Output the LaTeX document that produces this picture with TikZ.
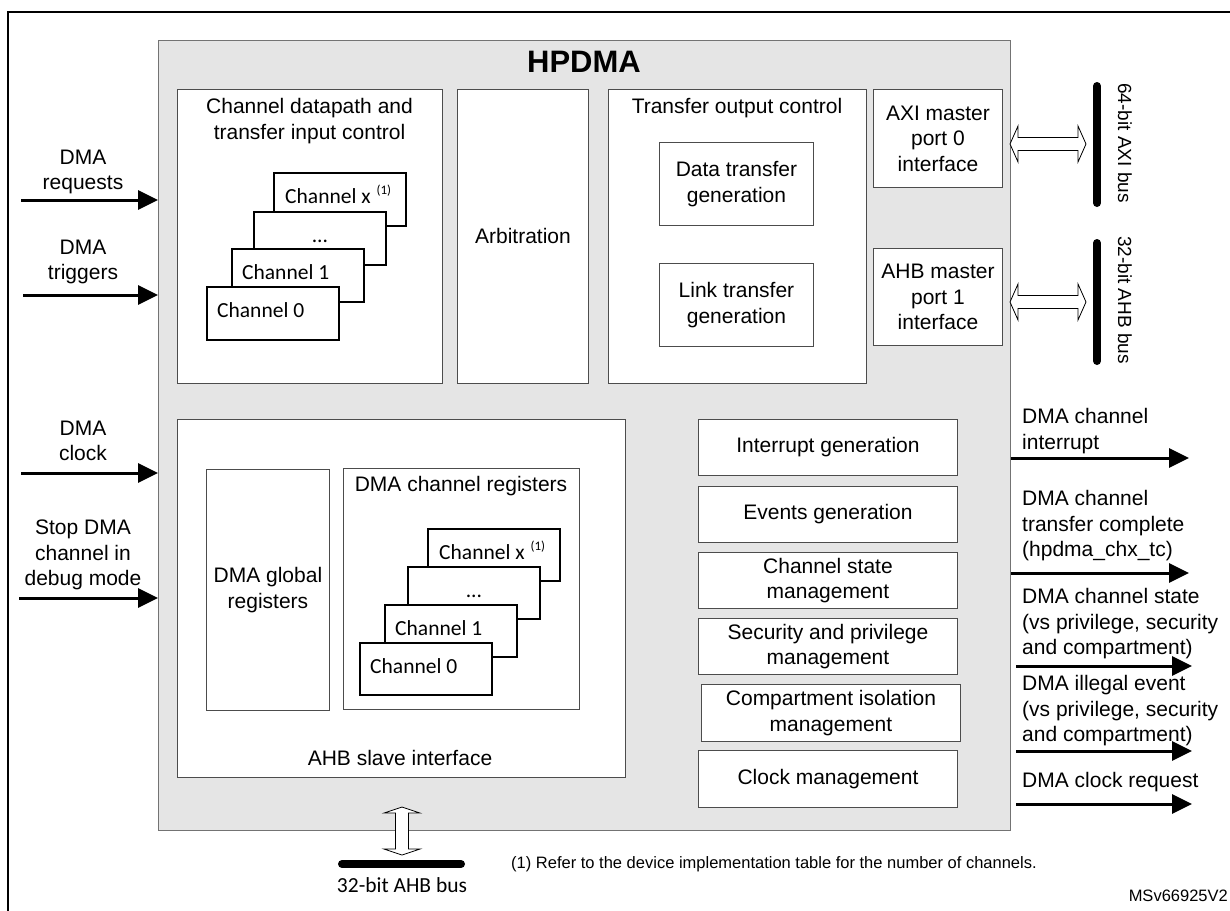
\documentclass[tikz,border=0pt]{standalone}
\usepackage{fontspec}
\setmainfont{Liberation Sans}
\newfontfamily\calfont{Carlito}
\usetikzlibrary{arrows.meta,calc}
\begin{document}
\begin{tikzpicture}[x=1pt,y=-1pt,
  box/.style={draw=black!70,line width=0.9pt,fill=white,inner sep=0pt,anchor=north west},
  chan/.style={draw=black,line width=1.8pt,fill=white,inner sep=0pt,anchor=north west,minimum width=132pt},
  txt/.style={font=\fontsize{21}{25.5}\selectfont,align=center,inner sep=0pt},
  ltxt/.style={font=\fontsize{21}{25.5}\selectfont,align=left,inner sep=0pt,anchor=west},
  ctxt/.style={font=\calfont\fontsize{21.5}{25}\selectfont,inner sep=0pt},
  sig/.style={line width=3pt,-{Triangle[length=20pt,width=19pt]}},
  bus/.style={line width=8pt,line cap=round},
  hollow/.style={draw=black,line width=0.8pt,fill=white},
  small/.style={font=\fontsize{16.5}{16.5}\selectfont,inner sep=0pt}
]
\useasboundingbox (0,0) rectangle (1230,910);
\fill[white] (0,0) rectangle (1230,910);
\draw[line width=1.5pt] (8,930) -- (8,12) -- (1250,12);

% main block
\node[draw=black!55,line width=1.2pt,fill=black!10,anchor=north west,inner sep=0pt,minimum width=852pt,minimum height=790pt] (hpdma) at (158,40) {};
\node[font=\bfseries\fontsize{31}{31}\selectfont,inner sep=0pt] (hptitle) at (584,62) {HPDMA};

% top row
\node[box,minimum width=265pt,minimum height=294pt] (dpath) at (177,89) {};
\node[txt] (dpatht) at (309.5,121) {Channel datapath and\\transfer input control};
\node[box,txt,minimum width=131pt,minimum height=294pt] (arb) at (457,89) {Arbitration};
\node[box,minimum width=258pt,minimum height=294pt] (tout) at (608,89) {};
\node[txt] (toutt) at (737,108) {Transfer output control};
\node[box,txt,minimum width=154pt,minimum height=83pt] (dgen) at (659,142) {Data transfer\\generation};
\node[box,txt,minimum width=154pt,minimum height=83pt] (lgen) at (659,263) {Link transfer\\generation};
\node[box,txt,minimum width=129pt,minimum height=98pt] (axim) at (873,89) {AXI master\\port 0\\interface};
\node[box,txt,minimum width=129pt,minimum height=97pt] (ahbm) at (873,248) {AHB master\\port 1\\interface};

% top channel stack
\node[chan,minimum height=53pt] (tcx) at (273,172) {};
\node[ctxt,anchor=base west] (tcxt) at ($(tcx.north west)+(12,31)$) {Channel x\hspace{6pt}\raisebox{9pt}{\fontsize{13}{13}\selectfont(1)}};
\node[chan,minimum height=53pt] (tdt) at (253,211) {};
\node[ctxt,anchor=base] (tdtt) at ($(tdt.north)+(0,31)$) {...};
\node[chan,minimum height=53pt] (tc1) at (231,248) {};
\node[ctxt,anchor=base west] (tc1t) at ($(tc1.north west)+(11,31)$) {Channel 1};
\node[chan,minimum height=53pt] (tc0) at (206,286) {};
\node[ctxt,anchor=base west] (tc0t) at ($(tc0.north west)+(11,31)$) {Channel 0};

% bottom left
\node[box,minimum width=448pt,minimum height=358pt] (slave) at (177,419) {};
\node[txt] (slavet) at (400,758) {AHB slave interface};
\node[box,txt,minimum width=123pt,minimum height=241pt] (glob) at (206,469) {DMA global\\registers};
\node[box,minimum width=236pt,minimum height=241pt] (cregs) at (343,468) {};
\node[txt] (cregst) at (461,486) {DMA channel registers};

\node[chan,minimum height=52pt] (bcx) at (427,528) {};
\node[ctxt,anchor=base west] (bcxt) at ($(bcx.north west)+(12,31)$) {Channel x\hspace{6pt}\raisebox{9pt}{\fontsize{13}{13}\selectfont(1)}};
\node[chan,minimum height=52pt] (bdt) at (407,566) {};
\node[ctxt,anchor=base] (bdtt) at ($(bdt.north)+(0,31)$) {...};
\node[chan,minimum height=52pt] (bc1) at (384,604) {};
\node[ctxt,anchor=base west] (bc1t) at ($(bc1.north west)+(11,31)$) {Channel 1};
\node[chan,minimum height=52pt] (bc0) at (359,642) {};
\node[ctxt,anchor=base west] (bc0t) at ($(bc0.north west)+(11,31)$) {Channel 0};

% right column
\node[box,txt,minimum width=259pt,minimum height=56pt] (intg) at (698,419) {Interrupt generation};
\node[box,txt,minimum width=259pt,minimum height=56pt] (evtg) at (698,486) {Events generation};
\node[box,txt,minimum width=259pt,minimum height=56pt] (stm) at (698,552) {Channel state\\management};
\node[box,txt,minimum width=259pt,minimum height=56pt] (secm) at (698,618) {Security and privilege\\management};
\node[box,txt,minimum width=259pt,minimum height=57pt] (cmpm) at (701,684) {Compartment isolation\\management};
\node[box,txt,minimum width=259pt,minimum height=57pt] (clkm) at (698,750) {Clock management};

% left inputs
\node[txt] (lreq) at (83,172) {DMA\\requests};
\coordinate (reqs) at (21,200);
\draw[sig] (reqs) -- (reqs -| hpdma.west);
\node[txt] (ltrg) at (83,262) {DMA\\triggers};
\coordinate (trgs) at (23,295);
\draw[sig] (trgs) -- (trgs -| hpdma.west);
\node[txt] (lclk) at (83,441) {DMA\\clock};
\coordinate (clks) at (21,473);
\draw[sig] (clks) -- (clks -| hpdma.west);
\node[txt] (lstop) at (83,555) {Stop DMA\\channel in\\debug mode};
\coordinate (stops) at (19,598);
\draw[sig] (stops) -- (stops -| hpdma.west);

% right outputs
\coordinate (o1) at (1189,458);
\draw[sig] (o1 -| hpdma.east) -- (o1);
\coordinate (o2) at (1189,573);
\draw[sig] (o2 -| hpdma.east) -- (o2);
\coordinate (o3) at (1192,666);
\draw[sig] ($(o3 -| hpdma.east)+(5,0)$) -- (o3);
\coordinate (o4) at (1192,751);
\draw[sig] ($(o4 -| hpdma.east)+(5,0)$) -- (o4);
\coordinate (o5) at (1192,804);
\draw[sig] ($(o5 -| hpdma.east)+(5,0)$) -- (o5);
\node[ltxt] (o1t) at (1022,431) {DMA channel\\interrupt};
\node[ltxt] (o2t) at (1022,526) {DMA channel\\transfer complete\\(hpdma\_chx\_tc)};
\node[ltxt] (o3t) at (1022,624) {DMA channel state\\(vs privilege, security\\and compartment)};
\node[ltxt] (o4t) at (1022,711) {DMA illegal event\\(vs privilege, security\\and compartment)};
\node[ltxt] (o5t) at (1022,782) {DMA clock request};

% buses
\coordinate (axib1) at (1097,86); \coordinate (axib2) at (1097,203);
\draw[bus] (axib1) -- (axib2);
\node[rotate=-90,font=\fontsize{19}{19}\selectfont,inner sep=0pt] (axil) at (1125,143) {64-bit AXI bus};
\coordinate (ahbb1) at (1097,243); \coordinate (ahbb2) at (1097,361);
\draw[bus] (ahbb1) -- (ahbb2);
\node[rotate=-90,font=\fontsize{19}{19}\selectfont,inner sep=0pt] (ahbl) at (1125,300) {32-bit AHB bus};
\coordinate (bb1) at (342,864); \coordinate (bb2) at (461,864);
\draw[bus] (bb1) -- (bb2);
\node[ctxt,anchor=base] (bbl) at (402,892) {32-bit AHB bus};

% hollow double arrows
\coordinate (axa) at (1010,144); \coordinate (axb) at (1086,144);
\draw[hollow] (axa) -- ++(8,-18) -- ++(0,11.5) -- ($(axb)+(-8,-6.5)$) -- ++(0,-11.5) -- (axb) -- ++(-8,18) -- ++(0,-11.5) -- ($(axa)+(8,6.5)$) -- ++(0,11.5) -- cycle;
\coordinate (aha) at (1010,302); \coordinate (ahb) at (1086,302);
\draw[hollow] (aha) -- ++(8,-18) -- ++(0,11.5) -- ($(ahb)+(-8,-6.5)$) -- ++(0,-11.5) -- (ahb) -- ++(-8,18) -- ++(0,-11.5) -- ($(aha)+(8,6.5)$) -- ++(0,11.5) -- cycle;
\coordinate (va) at (402,807); \coordinate (vb) at (402,855);
\draw[hollow] (va) -- ++(18,6) -- ++(-11.5,0) -- ($(vb)+(6.5,-6)$) -- ++(11.5,0) -- (vb) -- ++(-18,-6) -- ++(11.5,0) -- ($(va)+(-6.5,6)$) -- ++(-11.5,0) -- cycle;

% notes
\node[small,anchor=west] (fn) at (511,864) {(1) Refer to the device implementation table for the number of channels.};
\node[small,anchor=east] (msv) at (1228,896) {MSv66925V2};
\end{tikzpicture}
\end{document}
